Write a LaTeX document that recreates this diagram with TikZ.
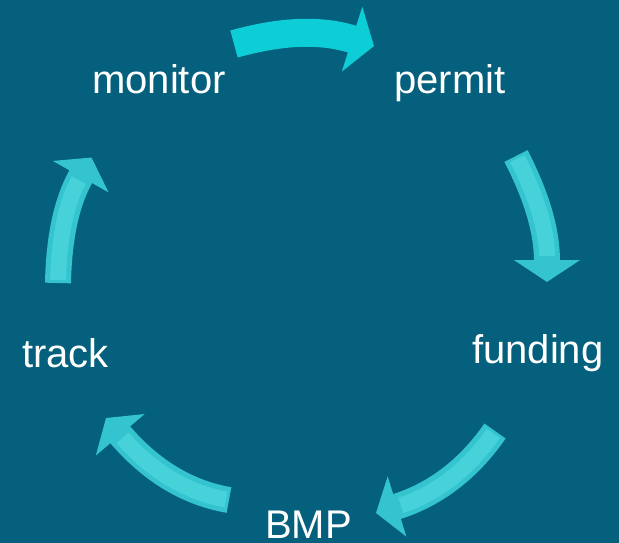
\documentclass[tikz,border=0pt]{standalone}
\usepackage{fontspec}
\setmainfont{Liberation Sans}
\usetikzlibrary{arrows.meta}
\definecolor{bgteal}{HTML}{05607D}
\definecolor{toparrow}{HTML}{0DCDD7}
\definecolor{cyanrim}{HTML}{34C4CF}
\definecolor{cyanlight}{HTML}{47D2DA}
\tikzset{
  lbl/.style={text=white, font=\fontsize{40}{44}\selectfont, anchor=base west, inner sep=0pt},
  flatarrow/.style={line width=28pt, draw=toparrow, -{Triangle[width=67pt,length=23pt]}},
  softarrow/.style={line width=26pt, draw=cyanrim, -{Triangle[width=#1,length=22pt]}},
  softcore/.style={line width=16pt, draw=cyanlight, shorten >=26pt, shorten <=3pt},
}
\begin{document}
\begin{tikzpicture}[x=1pt,y=-1pt]
\fill[bgteal] (0,0) rectangle (619,543);
\useasboundingbox (0,0) rectangle (619,543);

\node[lbl] (monitor) at (92,93) {monitor};
\node[lbl] (permit) at (394,93) {permit};
\node[lbl] (funding) at (472,363) {funding};
\node[lbl] (track) at (22,367) {track};
\node[lbl] (bmp) at (265,538) {BMP};

% arrow 1: monitor -> permit
\coordinate (a1s) at (234,44);
\coordinate (a1e) at (374,46);
\draw[flatarrow] (a1s) .. controls (281,31) and (320,29) .. (a1e);

% arrow 2: permit -> funding
\coordinate (a2s) at (516,156);
\coordinate (a2e) at (547,282);
\draw[softarrow=65pt] (a2s) .. controls (537,197) and (547,231) .. (a2e);
\draw[softcore] (a2s) .. controls (537,197) and (547,231) .. (a2e);

% arrow 3: funding -> BMP
\coordinate (a3s) at (495,431);
\coordinate (a3e) at (376,513);
\draw[softarrow=62pt] (a3s) .. controls (468,470) and (434,495) .. (a3e);
\draw[softcore] (a3s) .. controls (468,470) and (434,495) .. (a3e);

% arrow 4: BMP -> track
\coordinate (a4s) at (229,500);
\coordinate (a4e) at (106,418);
\draw[softarrow=63pt] (a4s) .. controls (188,493) and (151,471) .. (a4e);
\draw[softcore] (a4s) .. controls (188,493) and (151,471) .. (a4e);

% arrow 5: track -> monitor
\coordinate (a5s) at (58,283);
\coordinate (a5e) at (91.5,157.5);
\draw[softarrow=63pt] (a5s) .. controls (59,236) and (67,201) .. (a5e);
\draw[softcore] (a5s) .. controls (59,236) and (67,201) .. (a5e);
\end{tikzpicture}
\end{document}
